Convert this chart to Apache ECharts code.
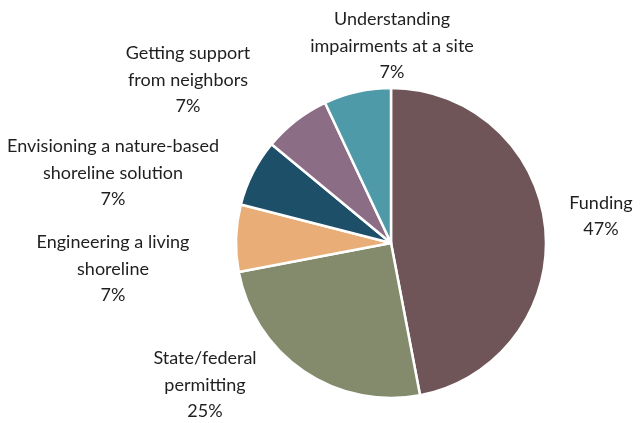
<!DOCTYPE html>
<html>
<head>
<meta charset="utf-8">
<script src="https://cdn.jsdelivr.net/npm/echarts@6/dist/echarts.min.js"></script>
<style>
  html, body { margin: 0; padding: 0; background: #ffffff; }
  #chart { width: 644px; height: 423px; }
</style>
</head>
<body>
<div id="chart"></div>
<script>
// Challenges reported for living shoreline projects (share of responses, %)
const categories = [
  'Funding',
  'State/federal\npermitting',
  'Engineering a living\nshoreline',
  'Envisioning a nature-based\nshoreline solution',
  'Getting support\nfrom neighbors',
  'Understanding\nimpairments at a site'
];
const shares = [47, 25, 7, 7, 7, 7];
const sliceColors = ['#6f5558', '#848b6c', '#e9ae77', '#1e4f68', '#8c6d86', '#4e9aa9'];

// Label anchor points (centre of each text block), in pixels
const labelAnchors = [
  [601, 216],
  [205, 385],
  [113, 269],
  [113, 173],
  [188, 80],
  [392, 46]
];

const chart = echarts.init(document.getElementById('chart'), null, { renderer: 'canvas' });

chart.setOption({
  animation: false,
  backgroundColor: '#ffffff',
  series: [{
    type: 'pie',
    center: [391, 243],
    radius: 155,
    startAngle: 90,
    clockwise: true,
    data: categories.map((name, i) => ({
      name: name,
      value: shares[i],
      itemStyle: { color: sliceColors[i] }
    })),
    itemStyle: { borderColor: '#ffffff', borderWidth: 2.5 },
    label: {
      show: true,
      formatter: '{b}\n{c}%',
      fontFamily: 'Lato',
      fontSize: 18,
      lineHeight: 26.5,
      color: '#1f1f1f',
      align: 'center',
      overflow: 'none',
      width: 300
    },
    labelLine: { show: false },
    labelLayout: function (params) {
      const p = labelAnchors[params.dataIndex];
      return { x: p[0], y: p[1], align: 'center', verticalAlign: 'middle' };
    },
    emphasis: { disabled: true }
  }]
});
</script>
</body>
</html>
